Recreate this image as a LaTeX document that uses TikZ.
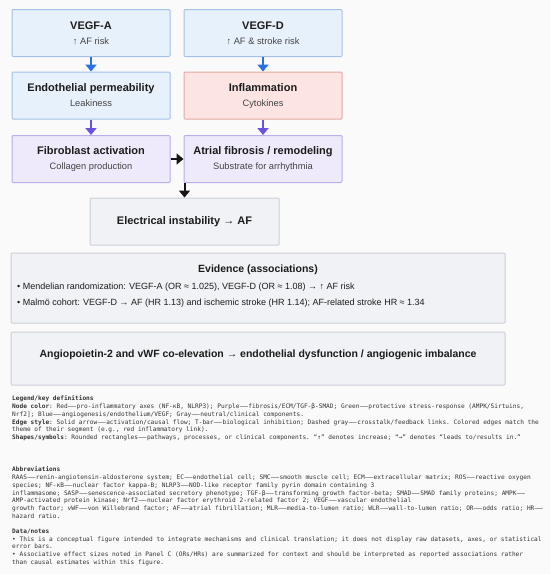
\documentclass[tikz,border=0pt]{standalone}
\usepackage{fontspec}
\setmainfont{Liberation Sans}
\setmonofont{DejaVu Sans Mono}
\newfontfamily\dashfont{DejaVu Sans}
\usepackage{graphicx}
\usepackage{tikz}
\usetikzlibrary{arrows.meta, positioning}

\definecolor{bgcol}{HTML}{FAFAFA}
\definecolor{bluefill}{HTML}{E7F1FC}
\definecolor{bluedraw}{HTML}{A3C1E9}
\definecolor{redfill}{HTML}{FBE4E1}
\definecolor{reddraw}{HTML}{E2A9A4}
\definecolor{purplefill}{HTML}{EEEAFB}
\definecolor{purpledraw}{HTML}{B9AEEB}
\definecolor{grayfill}{HTML}{F0F2F5}
\definecolor{graydraw}{HTML}{CBCFD6}
\definecolor{bluearrow}{HTML}{2770E6}
\definecolor{purplearrow}{HTML}{6C52E3}
\definecolor{inkarrow}{HTML}{151515}
\definecolor{titlecol}{HTML}{1C1C1C}
\definecolor{subcol}{HTML}{444444}
\definecolor{notecol}{HTML}{333333}

\newcommand{\boxhead}[1]{{\fontsize{11}{15}\selectfont\bfseries #1}}
\newcommand{\wdash}{{\dashfont\scalebox{1.45}[1]{—}}}
\newcommand{\notefont}{\ttfamily\fontsize{6.15}{7.75}\selectfont\lineskiplimit=-4pt\relax}

\begin{document}
\begin{tikzpicture}[
  x=1pt, y=1pt,
  panel/.style={draw, line width=1pt, rounded corners=1pt, inner sep=0pt, align=center,
    minimum width=158pt, minimum height=47pt, text=titlecol,
    font=\fontsize{9.3}{15}\selectfont},
  bluebox/.style={panel, draw=bluedraw, fill=bluefill},
  redbox/.style={panel, draw=reddraw, fill=redfill},
  purplebox/.style={panel, draw=purpledraw, fill=purplefill},
  graybox/.style={panel, draw=graydraw, fill=grayfill},
  flow/.style={-{Triangle[length=7pt, width=11pt]}, line width=2pt},
  headtext/.style={text=titlecol, inner sep=0pt, font=\fontsize{10.5}{13}\selectfont\bfseries},
  bullettext/.style={text=titlecol, inner sep=0pt, anchor=base west, font=\fontsize{9}{11}\selectfont},
  monotext/.style={text=notecol, inner sep=0pt, anchor=north west, align=left, font=\notefont}
]

% Background
\fill[bgcol] (0,0) rectangle (550,-574);
\useasboundingbox (0,0) rectangle (550,-574);

% Pathway boxes
\node[bluebox] (vegfa) at (91,-33) {\boxhead{VEGF-A}\\{\color{subcol}↑ AF risk}};
\node[bluebox] (vegfd) at (263,-33) {\boxhead{VEGF-D}\\{\color{subcol}↑ AF \& stroke risk}};
\node[bluebox] (endo) at (91,-95.5) {\boxhead{Endothelial permeability}\\{\color{subcol}Leakiness}};
\node[redbox] (infl) at (263,-95.5) {\boxhead{Inflammation}\\{\color{subcol}Cytokines}};
\node[purplebox] (fibro) at (91,-159) {\boxhead{Fibroblast activation}\\{\color{subcol}Collagen production}};
\node[purplebox] (atrial) at (263,-159) {\boxhead{Atrial fibrosis / remodeling}\\{\color{subcol}Substrate for arrhythmia}};
\node[graybox, minimum width=189pt] (elec) at (184.5,-221.5) {\boxhead{Electrical instability → AF}};

% Evidence panel
\node[graybox, minimum width=494pt, minimum height=70pt] (evid) at (258,-288) {};
\node[headtext, anchor=base] (evidtitle) at (258,-272.8) {Evidence (associations)};
\node[bullettext] (evidmr) at (17,-289.5) {• Mendelian randomization: VEGF-A (OR ≈ 1.025), VEGF-D (OR ≈ 1.08) → ↑ AF risk};
\node[bullettext] (evidmalmo) at (17,-305.5) {• Malmö cohort: VEGF-D → AF (HR 1.13) and ischemic stroke (HR 1.14); AF-related stroke HR ≈ 1.34};

% Angiopoietin panel
\node[graybox, minimum width=494pt, minimum height=53pt] (angio) at (258,-358.5) {};
\node[headtext, anchor=base] (angiotext) at (258,-357.8) {Angiopoietin-2 and vWF co-elevation → endothelial dysfunction / angiogenic imbalance};

% Arrows
\draw[flow, bluearrow] (vegfa) -- (endo);
\draw[flow, bluearrow] (vegfd) -- (infl);
\draw[flow, purplearrow] (endo) -- (fibro);
\draw[flow, purplearrow] (infl) -- (atrial);
\draw[flow, inkarrow] (fibro) -- (atrial);
\draw[flow, inkarrow] (elec.north |- atrial.south) -- (elec.north);

% Notes below the figure
\node[monotext] (legend) at (12,-395.6) {\textbf{Legend/key definitions}\\
\textbf{Node color}: Red\wdash pro-inflammatory axes (NF-κB, NLRP3); Purple\wdash fibrosis/ECM/TGF-β-SMAD; Green\wdash protective stress-response (AMPK/Sirtuins,\\
Nrf2]; Blue\wdash angiogenesis/endothelium/VEGF; Gray\wdash neutral/clinical components.\\
\textbf{Edge style}: Solid arrow\wdash activation/causal flow; T-bar\wdash biological inhibition; Dashed gray\wdash crosstalk/feedback links. Colored edges match the\\
theme of their segment (e.g., red inflammatory link).\\
\textbf{Shapes/symbols}: Rounded rectangles\wdash pathways, processes, or clinical components.  “↑” denotes increase; “→” denotes “leads to/results in.”};

\node[monotext] (abbrev) at (12,-466.6) {\textbf{Abbreviations}\\
RAAS\wdash renin-angiotensin-aldosterone system; EC\wdash endothelial cell; SMC\wdash smooth muscle cell; ECM\wdash extracellular matrix; ROS\wdash reactive oxygen\\
species; NF-κB\wdash nuclear factor kappa-B; NLRP3\wdash NOD-like receptor family pyrin domain containing 3\\
inflammasome; SASP\wdash senescence-associated secretory phenotype; TGF-β\wdash transforming growth factor-beta; SMAD\wdash SMAD family proteins; AMPK\wdash \\
AMP-activated protein kinase; Nrf2\wdash nuclear factor erythroid 2-related factor 2; VEGF\wdash vascular endothelial\\
growth factor; vWF\wdash von Willebrand factor; AF\wdash atrial fibrillation; MLR\wdash media-to-lumen ratio; WLR\wdash wall-to-lumen ratio; OR\wdash odds ratio; HR\wdash \\
hazard ratio.};

\node[monotext] (notes) at (12,-528.6) {\textbf{Data/notes}\\
• This is a conceptual figure intended to integrate mechanisms and clinical translation; it does not display raw datasets, axes, or statistical\\
error bars.\\
• Associative effect sizes noted in Panel C (ORs/HRs) are summarized for context and should be interpreted as reported associations rather\\
than causal estimates within this figure.};

\end{tikzpicture}
\end{document}
